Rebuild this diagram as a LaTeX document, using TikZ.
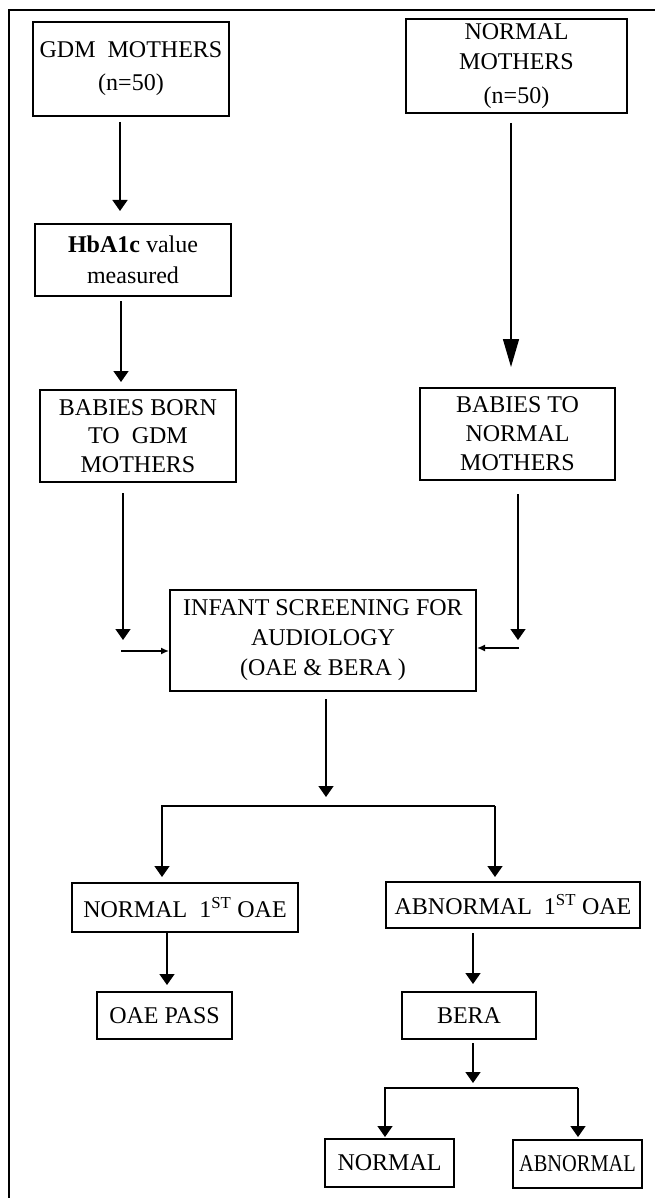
\documentclass[tikz,border=0pt]{standalone}
\usepackage{fontspec}
\setmainfont{Liberation Serif}
\usetikzlibrary{arrows.meta}

\begin{document}
\begin{tikzpicture}[x = 1pt, y = -1pt,
  box/.style = {draw, line width = 2pt, inner sep = 0pt, align = center, font = \fontsize{24}{33}\selectfont},
  arr/.style = {line width = 1.5pt, -{Triangle[width = 15pt, length = 11pt]}},
  bigarr/.style = {line width = 1.5pt, -{Triangle[width = 16pt, length = 28pt]}},
  sidearr/.style = {line width = 1.5pt, -{Latex[width = 7pt, length = 8pt]}}]
\useasboundingbox (0,0) rectangle (655,1198);
\draw[line width = 2.5pt] (9,1198) -- (9,10) -- (655,10);
\node[box, minimum width = 196pt, minimum height = 94pt] (gdm) at (131,69) {GDM~ MOTHERS\\(n=50)};
\node[box, minimum width = 221pt, minimum height = 94pt, font = \fontsize{24}{30}\selectfont] (normal) at (516.5,66) {NORMAL\\MOTHERS\\[4pt](n=50)};
\node[box, minimum width = 196pt, minimum height = 72pt, font = \fontsize{24}{31}\selectfont] (hba) at (133,260) {\textbf{HbA1c} value\\measured};
\node[box, minimum width = 196pt, minimum height = 92pt, font = \fontsize{24}{28.5}\selectfont] (babgdm) at (138,436) {BABIES BORN\\TO~ GDM\\MOTHERS};
\node[box, minimum width = 195pt, minimum height = 92pt, font = \fontsize{24}{29}\selectfont] (babnorm) at (517.5,434) {BABIES TO\\NORMAL\\MOTHERS};
\node[box, minimum width = 306pt, minimum height = 101pt, font = \fontsize{24}{30}\selectfont] (infant) at (323,640.5) {INFANT SCREENING FOR\\AUDIOLOGY\\(OAE \& BERA )};
\node[box, minimum width = 226pt, minimum height = 49pt] (nrm1) at (185,907.5) {NORMAL~ 1\textsuperscript{ST} OAE};
\node[box, minimum width = 254pt, minimum height = 46pt] (abn1) at (513,905) {ABNORMAL~ 1\textsuperscript{ST} OAE};
\node[box, minimum width = 135pt, minimum height = 47pt] (pass) at (164.5,1015.5) {OAE PASS};
\node[box, minimum width = 134pt, minimum height = 47pt] (bera) at (469,1015.5) {BERA};
\node[box, minimum width = 129pt, minimum height = 48pt] (nrm2) at (389.5,1163) {NORMAL};
\node[box, minimum width = 129pt, minimum height = 48pt] (abn2) at (577.5,1164) {\scalebox{0.85}[1]{ABNORMAL}};
\coordinate (lstop) at (123,640);
\coordinate (lin) at (121,651);
\coordinate (rstop) at (518,640);
\coordinate (rin) at (519,648);
\coordinate (mstop) at (326,797);
\coordinate (splitL) at (162,806);
\coordinate (splitR) at (495,806);
\coordinate (bstop) at (473,1083);
\coordinate (split2L) at (385,1088);
\coordinate (split2R) at (578,1088);
\draw[arr] ([xshift = -11pt, yshift = -5pt]gdm.south) -- ([xshift = -13pt, yshift = 12pt]hba.north);
\draw[arr] ([xshift = -12pt, yshift = -4pt]hba.south) -- ([xshift = -17pt, yshift = 7pt]babgdm.north);
\draw[bigarr] ([xshift = -5.5pt, yshift = -9pt]normal.south) -- ([xshift = -6.5pt, yshift = 20pt]babnorm.north);
\draw[arr] ([xshift = -15pt, yshift = -10pt]babgdm.south) -- (lstop);
\draw[sidearr] (lin) -- (lin -| infant.west);
\draw[arr] ([xshift = 0.5pt, yshift = -13pt]babnorm.south) -- (rstop);
\draw[sidearr] (rin) -- (rin -| infant.east);
\draw[arr] ([xshift = 3pt, yshift = -7pt]infant.south) -- (mstop);
\draw[arr, shorten >= 5pt] (splitR) -- (splitL) -- (splitL |- nrm1.north);
\draw[arr, shorten >= 4pt] (splitR) -- (splitR |- abn1.north);
\draw[arr, shorten >= 6pt] ([xshift = -18pt]nrm1.south) -- ([xshift = -18pt]nrm1.south |- pass.north);
\draw[arr] ([xshift = -40pt, yshift = -4pt]abn1.south) -- ([xshift = 4pt, yshift = 7pt]bera.north);
\draw[arr] ([xshift = 4pt, yshift = -3pt]bera.south) -- (bstop);
\draw[arr, shorten >= 1pt] (split2R) -- (split2L) -- (split2L |- nrm2.north);
\draw[arr, shorten >= 2pt] (split2R) -- (split2R |- abn2.north);
\end{tikzpicture}
\end{document}
